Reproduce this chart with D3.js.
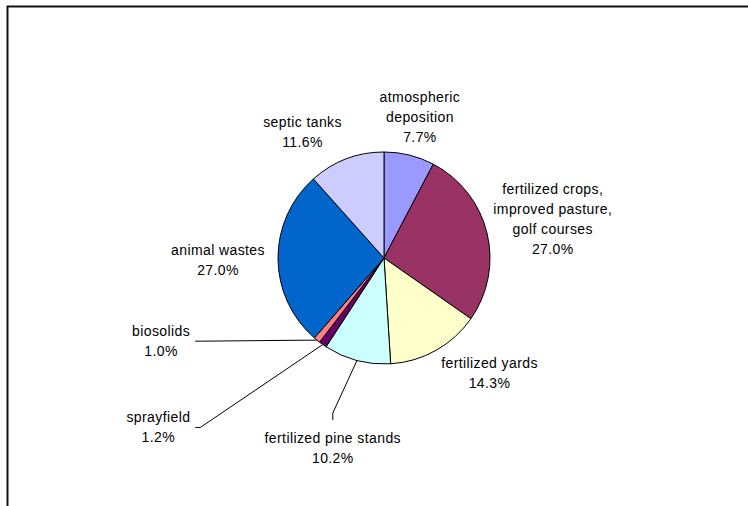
<!DOCTYPE html>
<html>
<head>
<meta charset="utf-8">
<script src="https://cdn.jsdelivr.net/npm/d3@7"></script>
<style>
  body { margin: 0; background: #fff; }
  svg { display: block; }
  text { font-family: Arial, "Liberation Sans", sans-serif; font-size: 14px; fill: #000; letter-spacing: 0.4px; }
</style>
</head>
<body>
<div id="chart"></div>
<script>
// sources of nitrogen, clockwise from 12 o'clock
const sources = ["atmospheric deposition", "fertilized crops", "fertilized yards", "fertilized pine stands",
                 "sprayfield", "biosolids", "animal wastes", "septic tanks"];
const labelLines = [["atmospheric", "deposition"], ["fertilized crops,", "improved pasture,", "golf courses"],
                    ["fertilized yards"], ["fertilized pine stands"], ["sprayfield"], ["biosolids"],
                    ["animal wastes"], ["septic tanks"]];
const shares = [7.7, 27.0, 14.3, 10.2, 1.2, 1.0, 27.0, 11.6];
const colors = ["#9999ff", "#993366", "#ffffcc", "#ccffff", "#660066", "#ff8080", "#0066cc", "#ccccff"];

// labels were dragged around by hand in the original, these nudge them off the default ring
const labelShift = [[0, 5], [23, -4], [32, -16], [-13, 45], [-139, 47], [-128, -33], [-16, 1], [-28, 14]];
const leaderFor = ["fertilized pine stands", "sprayfield", "biosolids"];

const width = 748, height = 506;
const cx = 384, cy = 258, radius = 106, labelRadius = 150, lineH = 20;

const svg = d3.select('#chart').append('svg').attr('width', width).attr('height', height);

// frame (only top and left edges show)
svg.append('path')
  .attr('d', 'M7.5,' + height + 'V6.5H' + width)
  .attr('fill', 'none')
  .attr('stroke', '#111')
  .attr('stroke-width', 2);

const data = sources.map((s, i) => ({ name: s, lines: labelLines[i], value: shares[i], color: colors[i], shift: labelShift[i] }));

const pie = d3.pie().sort(null).value(d => d.value);
const arcs = pie(data);

const arc = d3.arc().innerRadius(0).outerRadius(radius);
const edgeArc = d3.arc().innerRadius(radius).outerRadius(radius);
const labelArc = d3.arc().innerRadius(labelRadius).outerRadius(labelRadius);

const g = svg.append('g').attr('transform', `translate(${cx},${cy})`);

g.selectAll('path.slice').data(arcs).enter().append('path')
  .attr('class', 'slice')
  .attr('d', arc)
  .attr('fill', d => d.data.color)
  .attr('stroke', '#000')
  .attr('stroke-width', 1);

const fmt = d3.format('.1f');

const labels = g.selectAll('g.label').data(arcs).enter().append('g')
  .attr('class', 'label')
  .attr('transform', d => {
    let c = labelArc.centroid(d);
    return `translate(${c[0] + d.data.shift[0]},${c[1] + d.data.shift[1]})`;
  });

labels.each(function(d) {
  let lines = d.data.lines.concat([fmt(d.data.value) + '%']);
  let t = d3.select(this).append('text').attr('text-anchor', 'middle');
  lines.forEach((l, i) => {
    t.append('tspan').attr('x', 0).attr('y', -(lines.length - 1) * lineH / 2 + 5 + i * lineH).text(l);
  });
});

// leader lines for the labels that were pulled away
labels.filter(d => leaderFor.includes(d.data.name)).each(function(d) {
  let c = labelArc.centroid(d);
  let lx = c[0] + d.data.shift[0], ly = c[1] + d.data.shift[1];
  let bb = this.getBBox();
  let p = edgeArc.centroid(d);
  let dx = p[0] - lx, dy = p[1] - ly;
  let end, elbow;
  if (Math.abs(dx) > Math.abs(dy)) {
    let s = Math.sign(dx);
    let ex = lx + (s > 0 ? bb.x + bb.width : bb.x) + s * 5;
    let ey = ly + bb.y + bb.height / 2;
    end = [ex, ey];
    elbow = [ex + s * 5, ey];
  } else {
    let s = Math.sign(dy);
    let ey = ly + (s > 0 ? bb.y + bb.height : bb.y) + s * 10;
    end = [lx, ey];
    elbow = [lx, ey + s * 7];
  }
  g.append('path')
    .attr('d', d3.line()([end, elbow, p]))
    .attr('fill', 'none')
    .attr('stroke', '#000')
    .attr('stroke-width', 1);
});
</script>
</body>
</html>
